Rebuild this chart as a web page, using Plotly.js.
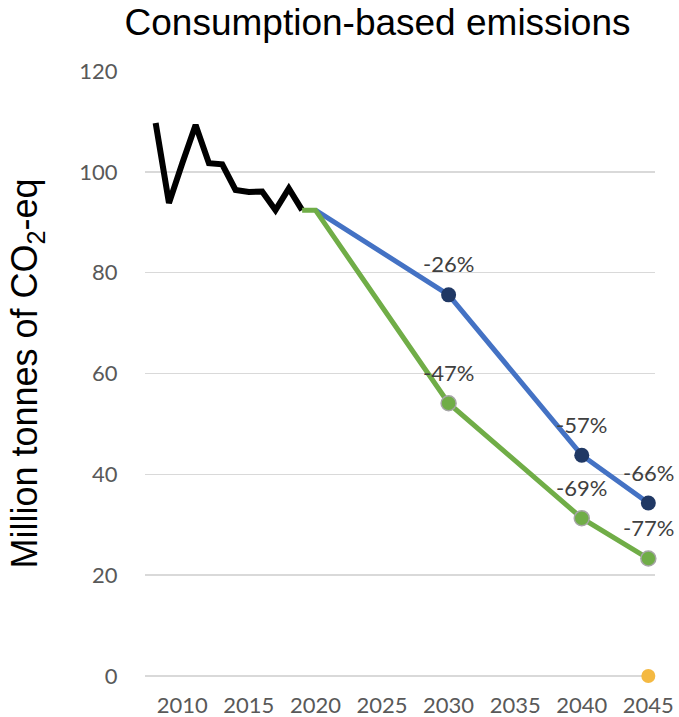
<!DOCTYPE html>
<html>
<head>
<meta charset="utf-8">
<script src="https://cdn.plot.ly/plotly-3.0.1.min.js"></script>
<style>html,body{margin:0;padding:0;background:#fff;}#chart{width:679px;height:717px;}</style>
</head>
<body>
<div id="chart"></div>
<script>
// Historical consumption-based emissions (Mt CO2-eq)
const histYears = [2008, 2009, 2010, 2011, 2012, 2013, 2014, 2015, 2016, 2017, 2018, 2019];
const histValues = [109.7, 93.8, 101.7, 109.3, 101.7, 101.5, 96.4, 96.0, 96.1, 92.4, 96.7, 92.4];

// Scenario A (blue)
const blueYears = [2020, 2030, 2040, 2045];
const blueValues = [92.4, 75.6, 43.8, 34.3];
const blueLabels = ["", "-26%", "-57%", "-66%"];

// Scenario B (green)
const greenYears = [2019, 2020, 2030, 2040, 2045];
const greenValues = [92.4, 92.4, 54.1, 31.3, 23.3];
const greenLabels = ["", "", "-47%", "-69%", "-77%"];

// Target point
const targetYears = [2045];
const targetValues = [0];

const xTicks = [2010, 2015, 2020, 2025, 2030, 2035, 2040, 2045];
const yTicks = [0, 20, 40, 60, 80, 100, 120];

const tickFont = {family: "Lato, 'Open Sans', sans-serif", size: 22, color: "#595959"};
const labelFont = {family: "Lato, 'Open Sans', sans-serif", size: 22, color: "#404040"};

function pick(arr, labels) { return arr.filter((_, i) => labels[i] !== ""); }

const traces = [
  {x: histYears, y: histValues, type: "scatter", mode: "lines",
   line: {color: "#000000", width: 6}},
  {x: blueYears, y: blueValues, type: "scatter", mode: "lines",
   line: {color: "#4472C4", width: 5}},
  {x: greenYears, y: greenValues, type: "scatter", mode: "lines",
   line: {color: "#70AD47", width: 5}},
  {x: pick(blueYears, blueLabels), y: pick(blueValues, blueLabels), type: "scatter", mode: "markers",
   opacity: 1, marker: {color: "#203864", size: 15, opacity: 1, line: {width: 0}}, cliponaxis: false},
  {x: pick(greenYears, greenLabels), y: pick(greenValues, greenLabels), type: "scatter", mode: "markers",
   opacity: 1, marker: {color: "#70AD47", size: 15, opacity: 1, line: {color: "#A5A5A5", width: 1.5}}, cliponaxis: false},
  {x: targetYears, y: targetValues, type: "scatter", mode: "markers",
   opacity: 1, marker: {color: "#F4B942", size: 14, opacity: 1, line: {width: 0}}, cliponaxis: false}
];

const annotations = [];
blueYears.forEach((yr, i) => {
  if (blueLabels[i]) annotations.push({x: yr, y: blueValues[i], text: blueLabels[i], showarrow: false,
    yshift: 31, font: labelFont, xanchor: "center", yanchor: "middle"});
});
greenYears.forEach((yr, i) => {
  if (greenLabels[i]) annotations.push({x: yr, y: greenValues[i], text: greenLabels[i], showarrow: false,
    yshift: 31, font: labelFont, xanchor: "center", yanchor: "middle"});
});

const layout = {
  width: 679, height: 717,
  margin: {l: 145, r: 24, t: 71, b: 41},
  paper_bgcolor: "#ffffff", plot_bgcolor: "#ffffff",
  showlegend: false,
  title: {text: "Consumption-based emissions", x: 0.556, xanchor: "center", xref: "container",
          y: 0.969, yanchor: "middle", yref: "container",
          font: {family: "'Liberation Sans', Arial, sans-serif", size: 37, color: "#000000"}},
  xaxis: {range: [2007.2, 2045.5], tickvals: xTicks, ticktext: xTicks.map(String),
          showgrid: false, zeroline: false, showline: false,
          ticks: "outside", ticklen: 10, tickcolor: "rgba(0,0,0,0)", tickfont: tickFont},
  yaxis: {range: [0, 120], tickvals: yTicks, ticktext: yTicks.map(String),
          showgrid: true, gridcolor: "#d9d9d9", gridwidth: 1.5,
          zeroline: true, zerolinecolor: "#d9d9d9", zerolinewidth: 1.5, showline: false,
          ticks: "outside", ticklen: 22, tickcolor: "rgba(0,0,0,0)", tickfont: tickFont,
          title: {text: "Million tonnes of CO<sub>2</sub>-eq", standoff: 30,
                  font: {family: "'Liberation Sans', Arial, sans-serif", size: 36, color: "#000000"}}},
  annotations: annotations
};

Plotly.newPlot("chart", traces, layout, {displayModeBar: false, staticPlot: true});
</script>
</body>
</html>
